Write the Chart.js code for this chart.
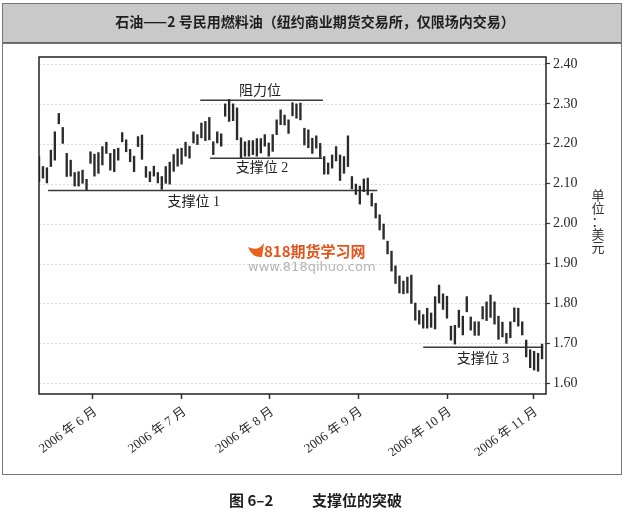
<!DOCTYPE html>
<html>
<head>
<meta charset="utf-8">
<script src="https://cdn.jsdelivr.net/npm/chart.js@4.4.1/dist/chart.umd.min.js"></script>
<style>
  html, body { margin: 0; padding: 0; background: #fff; }
  canvas { display: block; }
</style>
</head>
<body>
<canvas id="chart" width="625" height="513" style="width:625px;height:513px"></canvas>
<script>
// daily high / low, one bar per trading day
const highs = [
  2.168, 2.143, 2.140, 2.184, 2.230, 2.276, 2.241, 2.176, 2.159, 2.128,
  2.130, 2.134, 2.111, 2.180, 2.174, 2.178, 2.193, 2.204, 2.176, 2.186,
  2.189, 2.228, 2.210, 2.186, 2.169, 2.218, 2.222, 2.143, 2.130, 2.144,
  2.128, 2.118, 2.143, 2.154, 2.173, 2.187, 2.189, 2.204, 2.194, 2.230,
  2.223, 2.252, 2.256, 2.266, 2.205, 2.230, 2.225, 2.300, 2.311, 2.300,
  2.290, 2.215, 2.205, 2.208, 2.208, 2.213, 2.213, 2.223, 2.202, 2.223,
  2.260, 2.285, 2.272, 2.260, 2.303, 2.300, 2.302, 2.239, 2.235, 2.214,
  2.220, 2.201, 2.168, 2.152, 2.172, 2.193, 2.172, 2.168, 2.220, 2.118,
  2.099, 2.094, 2.112, 2.114, 2.076, 2.051, 2.022, 1.999, 1.956, 1.931,
  1.894, 1.869, 1.856, 1.866, 1.871, 1.801, 1.782, 1.772, 1.788, 1.776,
  1.817, 1.846, 1.824, 1.818, 1.743, 1.745, 1.783, 1.768, 1.817, 1.766,
  1.754, 1.754, 1.792, 1.804, 1.821, 1.804, 1.768, 1.753, 1.725, 1.754,
  1.789, 1.788, 1.754, 1.708, 1.684, 1.680, 1.675, 1.698
];
const lows = [
  2.105, 2.114, 2.102, 2.143, 2.159, 2.250, 2.201, 2.118, 2.119, 2.094,
  2.094, 2.101, 2.084, 2.151, 2.119, 2.126, 2.147, 2.176, 2.134, 2.130,
  2.159, 2.205, 2.180, 2.155, 2.130, 2.193, 2.161, 2.116, 2.105, 2.119,
  2.102, 2.086, 2.101, 2.099, 2.131, 2.144, 2.149, 2.169, 2.164, 2.202,
  2.198, 2.215, 2.208, 2.210, 2.173, 2.202, 2.194, 2.269, 2.256, 2.258,
  2.210, 2.164, 2.169, 2.169, 2.173, 2.169, 2.177, 2.194, 2.169, 2.181,
  2.223, 2.248, 2.247, 2.226, 2.270, 2.264, 2.260, 2.197, 2.190, 2.176,
  2.189, 2.166, 2.124, 2.124, 2.139, 2.157, 2.108, 2.126, 2.143, 2.087,
  2.073, 2.049, 2.080, 2.072, 2.044, 2.014, 1.984, 1.961, 1.924, 1.881,
  1.850, 1.826, 1.824, 1.826, 1.800, 1.758, 1.748, 1.738, 1.738, 1.740,
  1.736, 1.801, 1.785, 1.763, 1.708, 1.698, 1.740, 1.721, 1.779, 1.733,
  1.720, 1.720, 1.761, 1.757, 1.765, 1.748, 1.710, 1.716, 1.700, 1.714,
  1.754, 1.743, 1.721, 1.666, 1.639, 1.633, 1.630, 1.661
];

// month starts, in bar index units
const monthStarts = [13.6, 36.1, 58.2, 80.6, 103.1, 124.8];
const monthLabels = ['2006 年 6 月', '2006 年 7 月', '2006 年 8 月', '2006 年 9 月', '2006 年 10 月', '2006 年 11 月'];
const yTicks = [1.60, 1.70, 1.80, 1.90, 2.00, 2.10, 2.20, 2.30, 2.40];

// resistance / support levels: [start index, price], [end index, price]
const resistanceLine = [[40.7, 2.309], [71.7, 2.309]];
const support1Line = [[2.3, 2.083], [85.4, 2.083]];
const support2Line = [[43.2, 2.164], [71.5, 2.164]];
const support3Line = [[97.0, 1.690], [127.3, 1.690]];

const notes = [
  { text: '阻力位', x: 55.8, y: 2.332 },
  { text: '支撑位 2', x: 56.3, y: 2.139 },
  { text: '支撑位 1', x: 39.1, y: 2.054 },
  { text: '支撑位 3', x: 112.1, y: 1.661 }
];

const serif = '"Liberation Serif", "Noto Sans CJK SC", serif';
const sans = '"Noto Sans CJK SC", "Noto Sans", sans-serif';

function levelDataset(pts) {
  return {
    type: 'line',
    data: pts.map(p => ({ x: p[0], y: p[1] })),
    borderColor: '#3a3a3a',
    borderWidth: 1.5,
    pointRadius: 0,
    fill: false
  };
}

const decor = {
  id: 'decor',
  beforeDraw(chart) {
    const ctx = chart.ctx;
    const area = chart.chartArea;
    const y = chart.scales.y;
    ctx.save();
    ctx.fillStyle = '#fff';
    ctx.fillRect(0, 0, chart.width, chart.height);

    // header band
    ctx.fillStyle = '#c9c9c9';
    ctx.fillRect(3, 4, 618, 39);
    ctx.strokeStyle = '#777';
    ctx.lineWidth = 1;
    ctx.strokeRect(2.5, 3.5, 619, 471);
    ctx.strokeStyle = '#444';
    ctx.lineWidth = 1.5;
    ctx.beginPath();
    ctx.moveTo(3, 43);
    ctx.lineTo(621, 43);
    ctx.stroke();

    ctx.fillStyle = '#1e1e1e';
    ctx.textBaseline = 'middle';
    ctx.textAlign = 'center';
    ctx.font = 'bold 14px ' + sans;
    ctx.fillText('石油——2 号民用燃料油（纽约商业期货交易所，仅限场内交易）', 315, 22);

    // caption
    ctx.textAlign = 'left';
    ctx.font = 'bold 15px ' + sans;
    ctx.fillText('图 6–2', 229, 500);
    ctx.fillText('支撑位的突破', 312, 500);

    // unit, vertical
    ctx.textAlign = 'center';
    ctx.fillStyle = '#333';
    ctx.font = '13px ' + sans;
    ['单', '位', '：', '美', '元'].forEach((ch, i) => {
      ctx.fillText(ch, 598, 195 + i * 13);
    });

    // dotted grid
    ctx.strokeStyle = '#dadada';
    ctx.lineWidth = 1;
    ctx.setLineDash([2, 2]);
    yTicks.forEach(v => {
      const py = Math.round(y.getPixelForValue(v)) + 0.5;
      ctx.beginPath();
      ctx.moveTo(area.left, py);
      ctx.lineTo(area.right, py);
      ctx.stroke();
    });
    ctx.restore();
  },
  afterDatasetsDraw(chart) {
    const ctx = chart.ctx;
    const area = chart.chartArea;
    const x = chart.scales.x, y = chart.scales.y;
    ctx.save();
    ctx.strokeStyle = '#222';
    ctx.lineWidth = 1.5;
    ctx.strokeRect(area.left, area.top, area.right - area.left, area.bottom - area.top);

    ctx.fillStyle = '#222';
    ctx.textAlign = 'center';
    ctx.textBaseline = 'middle';
    ctx.font = '14px ' + serif;
    notes.forEach(n => {
      ctx.fillText(n.text, x.getPixelForValue(n.x), y.getPixelForValue(n.y));
    });

    // site watermark
    ctx.fillStyle = '#e8621e';
    ctx.beginPath();
    ctx.moveTo(248, 247);
    ctx.quadraticCurveTo(252, 258, 262, 257);
    ctx.lineTo(264, 243);
    ctx.quadraticCurveTo(258, 252, 248, 247);
    ctx.fill();
    ctx.textAlign = 'left';
    ctx.fillStyle = '#e2561e';
    ctx.font = 'bold 15px ' + sans;
    ctx.fillText('818期货学习网', 264, 251);
    ctx.fillStyle = '#b4b4b4';
    ctx.font = '13px "DejaVu Sans", sans-serif';
    ctx.fillText('www.818qihuo.com', 248, 268);
    ctx.restore();
  }
};

const bars = highs.map((h, i) => ({ x: i, y: [lows[i], h] }));

new Chart(document.getElementById('chart'), {
  type: 'bar',
  data: {
    datasets: [
      {
        data: bars,
        backgroundColor: '#2a2a2a',
        borderWidth: 0,
        barThickness: 1.7
      },
      levelDataset(resistanceLine),
      levelDataset(support1Line),
      levelDataset(support2Line),
      levelDataset(support3Line)
    ]
  },
  options: {
    responsive: false,
    devicePixelRatio: 1,
    animation: false,
    layout: { padding: { left: 39, top: 57, right: 39, bottom: 57 } },
    plugins: { legend: { display: false }, tooltip: { enabled: false } },
    scales: {
      x: {
        type: 'linear',
        min: 0,
        max: 128,
        offset: false,
        afterBuildTicks: scale => { scale.ticks = monthStarts.map(v => ({ value: v })); },
        afterFit: scale => { scale.height = 62; },
        grid: { drawOnChartArea: false, offset: false, tickLength: 5, tickColor: '#333', tickWidth: 1.5 },
        border: { display: false },
        ticks: {
          autoSkip: false,
          minRotation: 36,
          maxRotation: 36,
          labelOffset: 3,
          padding: 5,
          color: '#2a2a2a',
          font: { family: serif, size: 13 },
          callback: (v, i) => monthLabels[i]
        }
      },
      y: {
        type: 'linear',
        position: 'right',
        min: 1.573,
        max: 2.4175,
        afterBuildTicks: scale => { scale.ticks = yTicks.map(v => ({ value: v })); },
        afterFit: scale => { scale.width = 40; },
        grid: { drawOnChartArea: false, tickLength: 4, tickColor: '#333', tickWidth: 1.2 },
        border: { display: false },
        ticks: {
          padding: 3,
          color: '#2a2a2a',
          font: { family: serif, size: 14 },
          callback: v => v.toFixed(2)
        }
      }
    }
  },
  plugins: [decor]
});
</script>
</body>
</html>
